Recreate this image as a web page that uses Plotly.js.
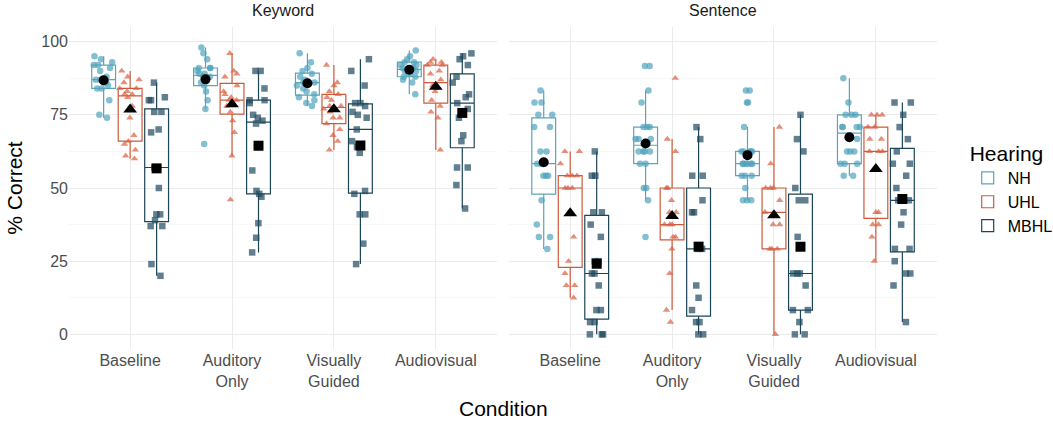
<!DOCTYPE html>
<html>
<head>
<meta charset="utf-8">
<script src="https://cdn.plot.ly/plotly-3.0.1.min.js"></script>
<style>
  html, body { margin: 0; padding: 0; background: #fff; }
  #chart { width: 1053px; height: 422px; }
</style>
</head>
<body>
<div id="chart"></div>
<script>
// conditions on the x axis (same for both facets)
var conditions = ['Baseline', 'Auditory<br>Only', 'Visually<br>Guided', 'Audiovisual'];
var facets = ['Keyword', 'Sentence'];
var groups = ['NH', 'UHL', 'MBHL'];

// % correct per listener, one list per condition
var keywordNH = [
  [74,75,80,84,84,85,86,86,87,87,88,90,91,92,92,93,94,95],
  [65,77,80,83,85,86,87,88,88,89,89,90,91,91,91,94,96,98],
  [78,79,80,81,82,83,84,85,86,86,87,88,89,90,91,93,96],
  [82,86,87,88,88,89,89,90,90,91,91,92,92,93,93,94,95,97]
];
var keywordUHL = [
  [60,61,63,65,66,68,74,78,81,82,82,83,84,84,86,87,88,90],
  [46,61,69,73,76,78,79,80,80,81,82,83,85,88,89,90,96],
  [63,66,68,70,72,74,74,76,77,78,78,80,81,82,83,85,86,92],
  [63,74,76,78,80,83,84,85,87,89,90,92,92,93,93,94]
];
var keywordMBHL = [
  [20,24,37,37,39,41,41,50,57,69,70,76,76,80,80,81,86],
  [28,33,38,47,48,49,56,64,72,73,74,75,79,80,80,84,90,90],
  [24,31,41,41,48,49,62,64,66,70,74,75,76,78,79,79,85,90,94],
  [43,51,57,57,66,68,74,77,79,81,82,86,88,92,94,95,96]
];
var sentenceNH = [
  [29.2,33.3,33.3,37.5,45.8,54.2,54.2,54.2,58.3,58.3,62.5,62.5,70.8,70.8,75,75,79.2,79.2,83.3],
  [33.3,45.8,50,50,58.3,58.3,62.5,62.5,62.5,62.5,66.7,66.7,66.7,70.8,70.8,70.8,79.2,83.3,91.7,91.7],
  [45.8,45.8,45.8,50,54.2,54.2,54.2,58.3,58.3,58.3,58.3,58.3,58.3,62.5,62.5,62.5,62.5,62.5,70.8,79.2,79.2,83.3,83.3],
  [54.2,54.2,58.3,58.3,58.3,62.5,62.5,62.5,66.7,70.8,70.8,70.8,70.8,75,75,75,79.2,87.5]
];
var sentenceUHL = [
  [12.5,16.7,16.7,20.8,25,33.3,41.7,50,50,50,54.2,54.2,54.2,58.3,62.5,62.5],
  [4.2,8.3,20.8,29.2,33.3,33.3,37.5,37.5,37.5,41.7,41.7,45.8,50,50,62.5,66.7,87.5],
  [0,29.2,29.2,29.2,37.5,37.5,41.7,45.8,50,50,50,58.3,70.8],
  [25,33.3,37.5,37.5,41.7,41.7,62.5,62.5,62.5,66.7,66.7,70.8,70.8,75,75,75]
];
var sentenceMBHL = [
  [0,0,0,4.2,4.2,8.3,8.3,16.7,20.8,20.8,25,25,33.3,37.5,41.7,41.7,54.2,54.2,62.5],
  [0,0,4.2,4.2,8.3,12.5,16.7,29.2,29.2,41.7,41.7,45.8,54.2,54.2,66.7,70.8],
  [0,0,4.2,8.3,8.3,16.7,20.8,20.8,20.8,33.3,45.8,45.8,50,62.5,66.7,75],
  [4.2,16.7,20.8,20.8,25,29.2,29.2,37.5,41.7,45.8,45.8,50,54.2,58.3,58.3,62.5,66.7,70.8,75,79.2,79.2]
];

var scores = [
  [keywordNH, keywordUHL, keywordMBHL],
  [sentenceNH, sentenceUHL, sentenceMBHL]
];

var lineColors = ['#5ba5b7', '#cc5b3b', '#1d4558'];
var pointColors = ['rgba(80,163,190,0.7)', 'rgba(216,96,66,0.7)', 'rgba(30,72,94,0.7)'];
var symbols = ['circle', 'triangle-up', 'square'];

function mean(a) {
  var s = 0;
  for (var i = 0; i < a.length; i++) s += a[i];
  return s / a.length;
}

var data = [];
facets.forEach(function (facet, f) {
  var xa = f === 0 ? 'x' : 'x2';
  var ya = f === 0 ? 'y' : 'y2';
  groups.forEach(function (grp, g) {
    var xs = [], ys = [], means = [];
    scores[f][g].forEach(function (vals, c) {
      vals.forEach(function (v) { xs.push(conditions[c]); ys.push(v); });
      means.push(mean(vals));
    });
    data.push({
      type: 'box',
      x: xs, y: ys,
      xaxis: xa, yaxis: ya,
      name: grp,
      legendgroup: grp,
      showlegend: f === 0,
      offsetgroup: grp,
      boxpoints: 'all',
      jitter: 0.9,
      pointpos: 0,
      whiskerwidth: 0,
      fillcolor: 'rgba(255,255,255,0)',
      line: { color: lineColors[g], width: 1.2 },
      marker: { symbol: symbols[g], size: 6.5, color: pointColors[g] },
      hoverinfo: 'y'
    });
    data.push({
      type: 'scatter',
      mode: 'markers',
      x: conditions, y: means,
      xaxis: xa, yaxis: ya,
      name: grp + ' mean',
      legendgroup: grp,
      showlegend: false,
      offsetgroup: grp,
      marker: { symbol: symbols[g], size: g === 1 ? 12 : 10, color: '#000000' }
    });
  });
});

var xCommon = {
  type: 'category',
  categoryorder: 'array',
  categoryarray: conditions,
  range: [-0.6, 3.6],
  showgrid: true,
  gridcolor: '#ebebeb',
  gridwidth: 1,
  zeroline: false,
  showline: false,
  ticks: '',
  tickfont: { family: 'Liberation Sans, Arial, sans-serif', size: 16, color: '#4d4d4d' }
};
var yCommon = {
  range: [-5, 105],
  tickvals: [0, 25, 50, 75, 100],
  showgrid: true,
  gridcolor: '#ebebeb',
  gridwidth: 1,
  minor: { tickvals: [12.5, 37.5, 62.5, 87.5], showgrid: true, gridcolor: '#f3f3f3', gridwidth: 0.6 },
  zeroline: false,
  showline: false,
  ticks: ''
};

var layout = {
  width: 1053,
  height: 422,
  paper_bgcolor: '#ffffff',
  plot_bgcolor: '#ffffff',
  font: { family: 'Liberation Sans, Arial, sans-serif', color: '#000000' },
  margin: { l: 69, r: 116, t: 27, b: 73 },
  boxmode: 'group',
  boxgap: 0.22,
  boxgroupgap: 0.1,
  scattermode: 'group',
  scattergap: 0.22,
  xaxis: Object.assign({}, xCommon, { domain: [0, 0.493], anchor: 'y' }),
  xaxis2: Object.assign({}, xCommon, { domain: [0.507, 1], anchor: 'y2' }),
  yaxis: Object.assign({}, yCommon, {
    anchor: 'x',
    tickfont: { size: 16, color: '#4d4d4d' },
    title: { text: '% Correct', font: { size: 21 }, standoff: 12 }
  }),
  yaxis2: Object.assign({}, yCommon, { anchor: 'x2', matches: 'y', showticklabels: false }),
  legend: {
    xref: 'container', x: 0.919, xanchor: 'left',
    yref: 'container', y: 0.683, yanchor: 'top',
    title: { text: 'Hearing', font: { size: 21 } },
    font: { size: 16 },
    tracegroupgap: 0
  },
  annotations: [
    { text: 'Keyword', xref: 'x domain', x: 0.5, yref: 'paper', y: 1, yanchor: 'bottom', yshift: 6,
      showarrow: false, font: { size: 16, color: '#1a1a1a' } },
    { text: 'Sentence', xref: 'x2 domain', x: 0.5, yref: 'paper', y: 1, yanchor: 'bottom', yshift: 6,
      showarrow: false, font: { size: 16, color: '#1a1a1a' } },
    { text: 'Condition', xref: 'paper', x: 0.5, yref: 'paper', y: 0, yanchor: 'middle', yshift: -59,
      showarrow: false, font: { size: 21 } }
  ],
  showlegend: true
};

Plotly.newPlot('chart', data, layout, { displayModeBar: false, staticPlot: true });
</script>
</body>
</html>
